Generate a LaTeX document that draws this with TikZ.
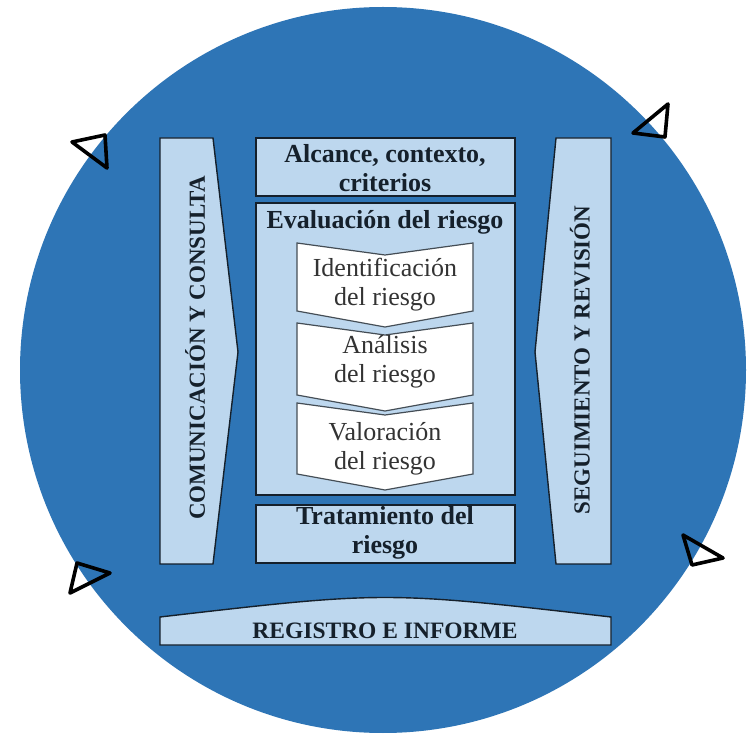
\documentclass[tikz,border=0pt]{standalone}
\usepackage{fontspec}
\setmainfont{Liberation Serif}
\definecolor{bigblue}{HTML}{2E75B6}
\definecolor{lightfill}{HTML}{BDD7EE}
\definecolor{edge}{HTML}{15202B}
\begin{document}
\begin{tikzpicture}[x=1pt,y=-1pt,
  panel/.style={fill=lightfill,draw=edge,line width=1.4pt},
  chev/.style={fill=white,draw=edge!80,line width=1.2pt},
  tri/.style={draw=black,line width=3.6pt,line join=round},
  boldtxt/.style={font=\bfseries\fontsize{26}{29}\selectfont,align=center,text=edge},
  regtxt/.style={font=\fontsize{26}{29}\selectfont,align=center,text=black!80},
  bannertxt/.style={font=\bfseries\fontsize{23.5}{28}\selectfont,text=edge},
  sidetxt/.style={font=\bfseries\fontsize{23}{26}\selectfont,rotate=90,text=edge}]
\useasboundingbox (0,0) rectangle (748,735);
\fill[white] (0,0) rectangle (748,735);
\fill[bigblue] (383,370) circle[radius=363];
% side arrows
\draw[panel] (160,138) -- (213,138) -- (238,352) -- (213,564) -- (160,564) -- cycle;
\draw[panel] (556,138) -- (611,138) -- (611,564) -- (556,564) -- (535,352) -- cycle;
% central boxes
\draw[panel] (256,138) rectangle (515,196);
\draw[panel] (256,203) rectangle (515,495);
\draw[panel] (256,505) rectangle (515,563);
% chevrons
\draw[chev] (297,243) -- (385,255) -- (473,243) -- (473,311) -- (385,327) -- (297,311) -- cycle;
\draw[chev] (297,323) -- (385,335) -- (473,323) -- (473,395) -- (385,411) -- (297,395) -- cycle;
\draw[chev] (297,403) -- (385,415) -- (473,403) -- (473,474) -- (385,490) -- (297,474) -- cycle;
% banner
\draw[panel] (160,617) .. controls (385,591) .. (611,617) -- (611,645) -- (160,645) -- cycle;
% triangles
\draw[tri] (105,135) -- (72,142) -- (107,168) -- cycle;
\draw[tri] (665,137) -- (633,133) -- (668,104) -- cycle;
\draw[tri] (77,563) -- (110,573) -- (70,593) -- cycle;
\draw[tri] (692,565) -- (683,535) -- (723,558) -- cycle;
% texts
\node[boldtxt] (alc) at (385,168) {Alcance, contexto,\\criterios};
\node[boldtxt] (eva) at (385,222) {Evaluación del riesgo};
\node[regtxt] (ide) at (385,285) {Identificación\\del riesgo};
\node[regtxt] (ana) at (385,362) {Análisis\\del riesgo};
\node[regtxt] (val) at (385,449) {Valoración\\del riesgo};
\node[boldtxt] (tra) at (385,533) {Tratamiento del\\riesgo};
\node[bannertxt] (reg) at (385,631) {REGISTRO E INFORME};
\node[sidetxt] (com) at (195,348) {COMUNICACIÓN Y CONSULTA};
\node[sidetxt] (seg) at (580,360) {SEGUIMIENTO Y REVISIÓN};
\end{tikzpicture}
\end{document}
